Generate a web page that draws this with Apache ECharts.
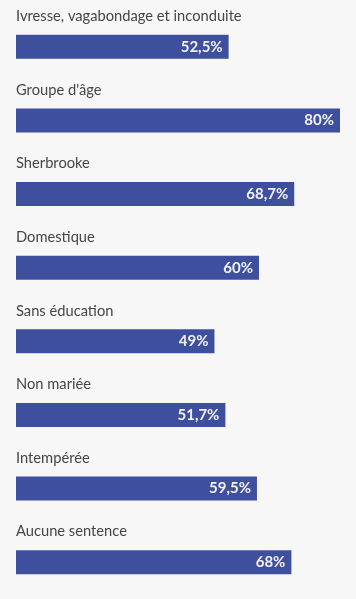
<!DOCTYPE html>
<html><head><meta charset="utf-8">
<script src="https://cdn.jsdelivr.net/npm/echarts@6/dist/echarts.min.js"></script>
<style>html,body{margin:0;padding:0;background:#f7f7f7;}#c{width:356px;height:599px;}</style>
</head><body><div id="c"></div>
<script>
var categories = ["Ivresse, vagabondage et inconduite","Groupe d'âge","Sherbrooke","Domestique","Sans éducation","Non mariée","Intempérée","Aucune sentence"];
var values = [52.5,80,68.7,60,49,51.7,59.5,68];
var chart = echarts.init(document.getElementById('c'));
chart.setOption({
  backgroundColor:'#f7f7f7',
  animation:false,
  grid:{left:16,right:16,top:10,height:594.3},
  xAxis:{type:'value',min:0,max:80,show:false},
  yAxis:{type:'category',data:categories,inverse:true,
    axisLine:{show:false},axisTick:{show:false},splitLine:{show:false},
    axisLabel:{inside:true,margin:0,align:'left',verticalAlign:'bottom',padding:[0,0,23,0],
      fontFamily:'Lato',fontSize:14.7,color:'#454545',lineHeight:15}},
  series:[{type:'bar',data:values,barWidth:24,itemStyle:{color:'#3e4f9e'},
    label:{show:true,position:'insideRight',distance:6,color:'#f2f2f7',fontFamily:'Lato',fontWeight:'bold',fontSize:15,
      formatter:function(p){return String(p.value).replace('.',',')+'%';}}}]
});
</script></body></html>
